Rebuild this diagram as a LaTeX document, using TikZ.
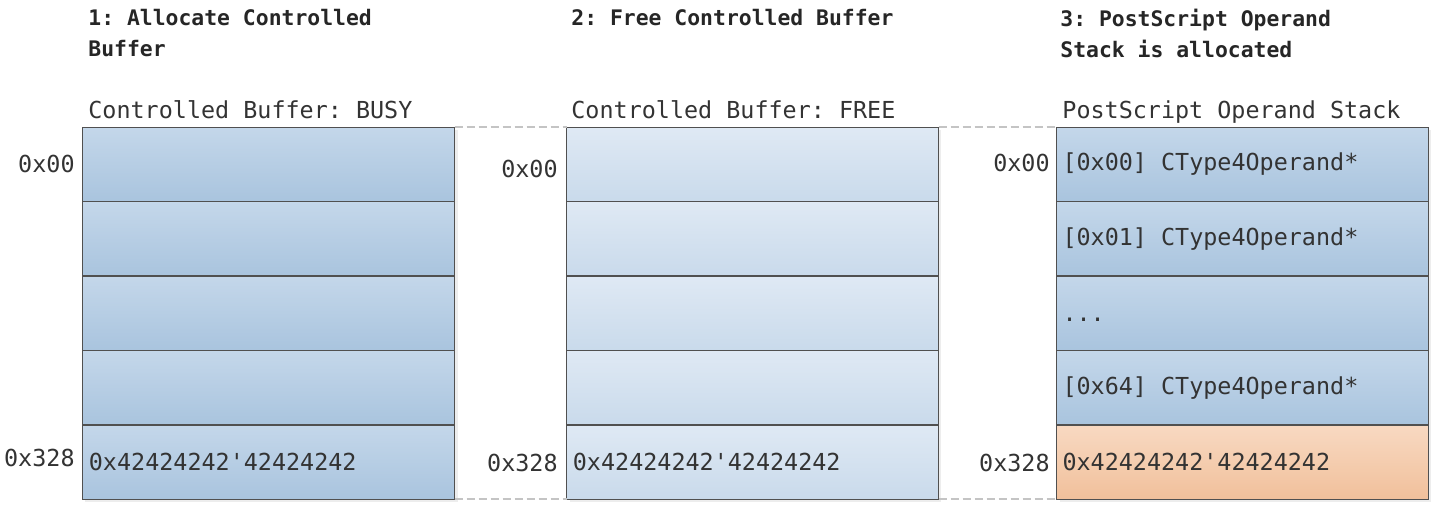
\documentclass[tikz,border=0pt]{standalone}
\usepackage{fontspec}
\setmonofont{DejaVu Sans Mono}
\usepackage{tikz}
\usetikzlibrary{positioning}

\definecolor{busytop}{HTML}{C4D7EA}
\definecolor{busybot}{HTML}{A9C4DE}
\definecolor{freetop}{HTML}{DFE9F4}
\definecolor{freebot}{HTML}{C9DAEB}
\definecolor{spilltop}{HTML}{F8D9C2}
\definecolor{spillbot}{HTML}{F1C09B}
\definecolor{cellborder}{HTML}{505050}
\definecolor{gapgray}{HTML}{C4C4C4}

\begin{document}
\begin{tikzpicture}[x=0.5pt, y=-0.5pt,
    cell/.style={draw=cellborder, line width=0.75pt, minimum width=186pt, minimum height=37.2pt,
        inner xsep=3pt, outer sep=0pt, text width=180pt, align=flush left,
        font=\ttfamily\fontsize{11.7}{14}\selectfont, text=black!80},
    busy/.style={cell, top color=busytop, bottom color=busybot},
    free/.style={cell, top color=freetop, bottom color=freebot},
    spill/.style={cell, top color=spilltop, bottom color=spillbot},
    title/.style={anchor=north west, inner sep=0pt, align=left, text=black!85,
        font=\ttfamily\bfseries\fontsize{10.7}{15.5}\selectfont},
    caption/.style={anchor=base west, inner sep=0pt, text=black!80,
        font=\ttfamily\fontsize{11.7}{14}\selectfont},
    addr/.style={anchor=base east, inner sep=0pt, text=black!80,
        font=\ttfamily\fontsize{11.7}{14}\selectfont},
    gap/.style={draw=gapgray, line width=1pt, dash pattern=on 4pt off 2pt},
    shade/.style={fill=black!7, draw=none}]

\useasboundingbox (0,0) rectangle (1438,510);

% shadows behind the buffers
\fill[shade] (85,130) rectangle (458,502);
\fill[shade] (570,130) rectangle (941,502);
\fill[shade] (1060,130) rectangle (1431,502);

% titles
\node[title] (t1) at (88,8.5) {1: Allocate Controlled\\Buffer};
\node[title] (t2) at (571,8.5) {2: Free Controlled Buffer};
\node[title] (t3) at (1060,8.5) {3: PostScript Operand\\Stack is allocated};

\node[caption] (c1cap) at (88,118) {Controlled Buffer: BUSY};
\node[caption] (c2cap) at (571,118) {Controlled Buffer: FREE};
\node[caption] (c3cap) at (1062,118) {PostScript Operand Stack};

% buffer 1
\node[busy] (a1) at (268.5,164.5) {};
\foreach \j in {2,...,5} {
    \pgfmathtruncatemacro{\i}{\j-1}
    \node[busy, below=0pt of a\i] (a\j) {};
}
\node[anchor=west, inner xsep=3pt, font=\ttfamily\fontsize{11.7}{14}\selectfont, text=black!80] (a5txt) at (a5.west) {0x42424242'42424242};

% buffer 2
\node[free] (b1) at (752.5,164.5) {};
\foreach \j in {2,...,5} {
    \pgfmathtruncatemacro{\i}{\j-1}
    \node[free, below=0pt of b\i] (b\j) {};
}
\node[anchor=west, inner xsep=3pt, font=\ttfamily\fontsize{11.7}{14}\selectfont, text=black!80] (b5txt) at (b5.west) {0x42424242'42424242};

% buffer 3
\node[busy] (c1) at (1242.5,164.5) {{}[0x00] CType4Operand*};
\node[busy, below=0pt of c1] (c2) {{}[0x01] CType4Operand*};
\node[busy, below=0pt of c2] (c3) {\vphantom{0}...};
\node[busy, below=0pt of c3] (c4) {{}[0x64] CType4Operand*};
\node[spill, below=0pt of c4] (c5) {0x42424242'42424242};

% addresses
\node[addr] (a1addr) at (75,172) {0x00};
\node[addr] (a5addr) at (75,466) {0x328};
\node[addr] (b1addr) at (558,177) {0x00};
\node[addr] (b5addr) at (558,471) {0x328};
\node[addr] (c1addr) at (1050,171) {0x00};
\node[addr] (c5addr) at (1050,471) {0x328};

% dashed gaps
\draw[gap] (a1.north east) -- (b1.north west);
\draw[gap] (a5.south east) -- (b5.south west);
\draw[gap] (b1.north east) -- (c1.north west);
\draw[gap] (b5.south east) -- (c5.south west);
\end{tikzpicture}
\end{document}
